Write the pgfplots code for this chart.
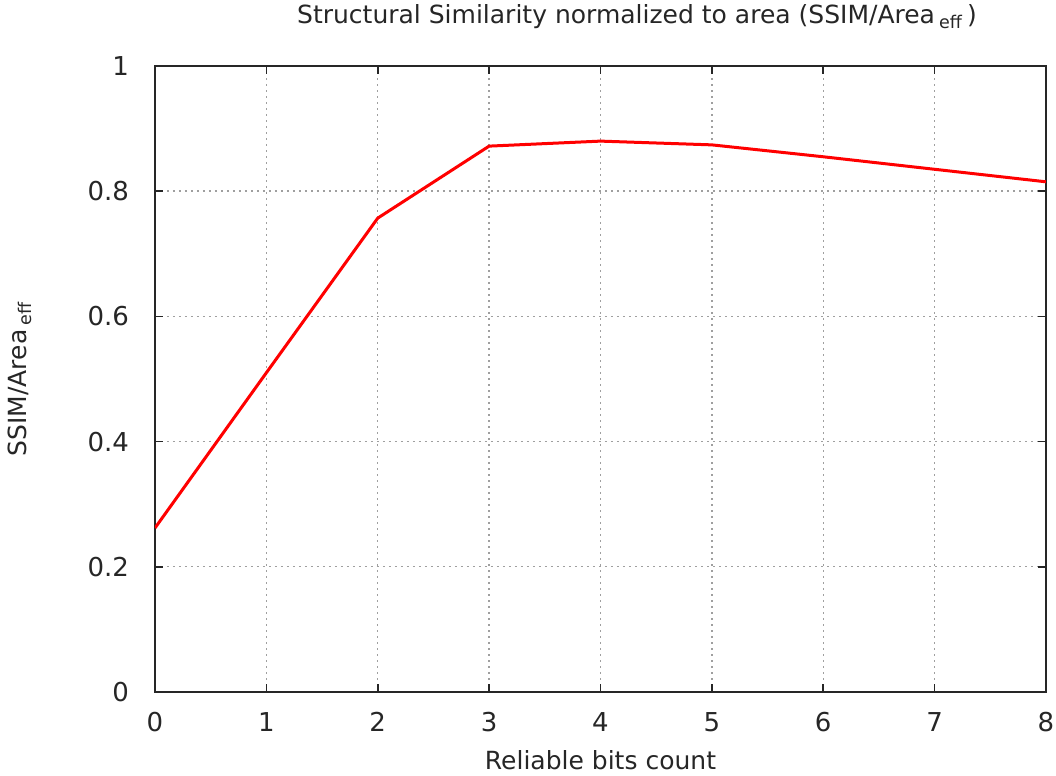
\documentclass[border=0pt]{standalone}
\usepackage{fontspec}
\setmainfont{DejaVu Sans}
\usepackage{pgfplots}
\pgfplotsset{compat=1.18}

\begin{document}
\begin{tikzpicture}
\begin{axis}[
  at={(0,0)}, anchor=south west,
  scale only axis,
  width=445.5pt, height=313pt,
  xmin=0, xmax=8, ymin=0, ymax=1,
  xtick={0,1,...,8},
  ytick={0,0.2,0.4,0.6,0.8,1},
  yticklabels={0,0.2,0.4,0.6,0.8,1},
  /pgf/number format/assume math mode=true,
  tick label style={font=\fontsize{13}{15}\selectfont, color=black!85},
  xticklabel style={yshift=-6.5pt},
  yticklabel style={xshift=-9.5pt},
  tick align=inside,
  major tick length=4pt,
  tick style={black!85, line width=0.8pt},
  grid=major,
  grid style={dash pattern=on 1pt off 2pt, gray!75, line width=0.7pt},
  axis line style={black!85, line width=0.9pt},
  xlabel={Reliable bits count},
  ylabel={SSIM/Area\,\textsubscript{eff}},
  xlabel style={font=\fontsize{12.5}{15}\selectfont, color=black!85,
    at={(axis description cs:0.5,-0.1086)}, anchor=center},
  ylabel style={font=\fontsize{12.5}{15}\selectfont, color=black!85,
    at={(axis description cs:-0.1515,0.5)}, anchor=center},
  title={Structural Similarity normalized to area (SSIM/Area\,\textsubscript{eff}\,)},
  title style={font=\fontsize{12.5}{15}\selectfont, color=black!85,
    at={(axis description cs:0.541,1.06)}, anchor=center},
]
\addplot[red, line width=1.5pt] coordinates {
  (0,0.262) (1,0.510) (2,0.757) (3,0.872) (4,0.880)
  (5,0.874) (6,0.855) (7,0.835) (8,0.815)
};
\end{axis}
\pgfresetboundingbox
\path[use as bounding box] (-77.5pt,-42pt) rectangle (450.5pt,346pt);
\end{tikzpicture}
\end{document}
